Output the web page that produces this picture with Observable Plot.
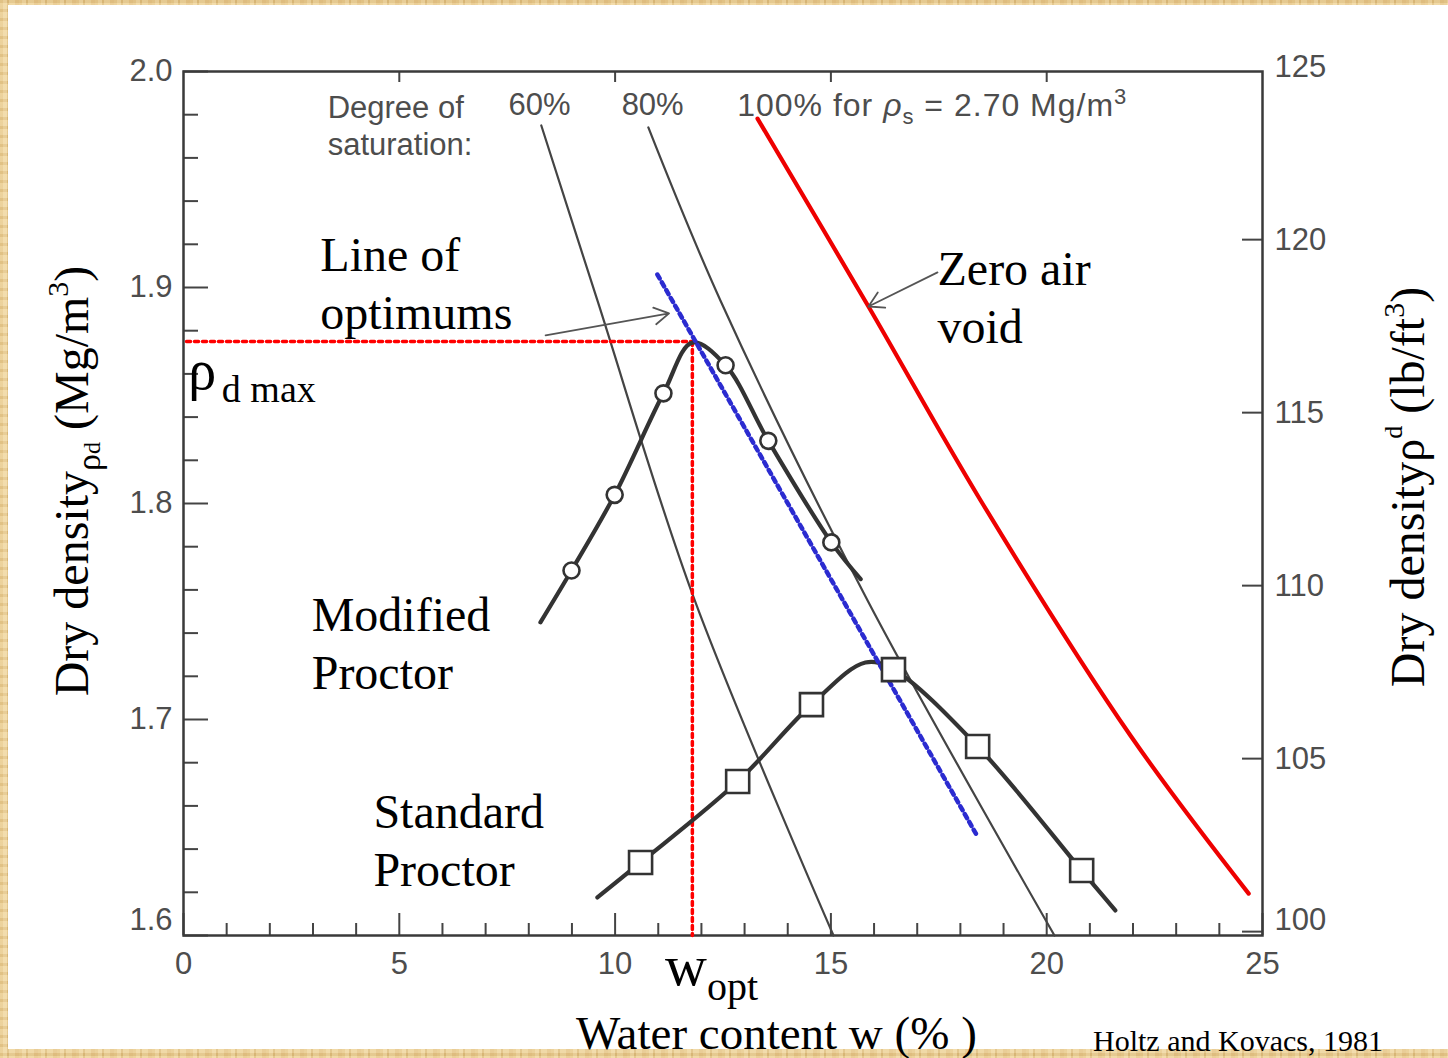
<!DOCTYPE html>
<html><head><meta charset="utf-8">
<script src="https://cdn.jsdelivr.net/npm/d3@7"></script>
<script src="https://cdn.jsdelivr.net/npm/@observablehq/plot@0.6"></script>
<style>
html,body{margin:0;padding:0;background:#fff;}
#wrap{position:relative;width:1448px;height:1058px;overflow:hidden;
 background:
  repeating-linear-gradient(0deg, rgba(255,240,200,0.25) 0 2px, rgba(180,140,70,0.12) 2px 5px, rgba(255,245,215,0.2) 5px 9px),
  repeating-linear-gradient(90deg, #e7c98d 0 3px, #efd6a2 3px 7px, #dcbb7c 7px 9px, #ecd29b 9px 15px, #e4c387 15px 19px);}
#paper{position:absolute;left:8px;top:5px;right:0;bottom:9px;background:#fff;}
#chart{position:absolute;left:0;top:0;}
</style></head><body>
<div id="wrap"><div id="paper"></div><div id="chart"></div></div>
<script>
// ---------- data ----------
// Modified Proctor curve (water content %, dry density Mg/m3); isTest marks measured points
const modW      = [8.27, 8.99, 9.99, 11.12, 11.79, 12.56, 13.55, 15.01, 15.69];
const modRho    = [1.745, 1.769, 1.804, 1.851, 1.8745, 1.864, 1.829, 1.782, 1.765];
const modIsTest = [0, 1, 1, 1, 0, 1, 1, 1, 0];
// Standard Proctor curve
const stdW      = [9.59, 10.59, 12.84, 14.55, 15.80, 16.45, 18.40, 20.81, 21.59];
const stdRho    = [1.6176, 1.6338, 1.6713, 1.7069, 1.7264, 1.7231, 1.6875, 1.6301, 1.6116];
const stdIsTest = [0, 1, 1, 1, 0, 1, 1, 1, 0];
// Degree of saturation lines
const s60W   = [8.29, 9.59, 11.82, 15.06];
const s60Rho = [1.975, 1.894, 1.7565, 1.600];
const s80W   = [10.77, 12.44, 15.85, 20.18];
const s80Rho = [1.9741, 1.894, 1.7551, 1.600];
const s100W   = [13.30, 15.87, 18.47, 21.94, 24.68];
const s100Rho = [1.9782, 1.8912, 1.8014, 1.6926, 1.6194];
// Line of optimums
const optLineW   = [10.98, 18.37];
const optLineRho = [1.906, 1.6468];
// Optimum of modified Proctor
const wOpt = 11.79, rhoMax = 1.875;
// Axis ticks
const xMajor = [0, 5, 10, 15, 20, 25];
const xMinor = [1,2,3,4,6,7,8,9,11,12,13,14,16,17,18,19,21,22,23,24];
const xTop   = [5, 10, 15, 20];
const yMajor = [1.6, 1.7, 1.8, 1.9, 2.0];
const yMinor = [1.62,1.64,1.66,1.68,1.72,1.74,1.76,1.78,1.82,1.84,1.86,1.88,1.92,1.94,1.96,1.98];
const lbTicks = [100, 105, 110, 115, 120, 125];
const LB_PER_MG = 62.43;

const toPts = (W, R, T) => W.map((w, i) => ({w, rho: R[i], test: T ? T[i] : 1}));
const mod = toPts(modW, modRho, modIsTest);
const std = toPts(stdW, stdRho, stdIsTest);
const s60 = toPts(s60W, s60Rho), s80 = toPts(s80W, s80Rho), s100 = toPts(s100W, s100Rho);
const optLine = toPts(optLineW, optLineRho);

const gray = "#4d4d4d", ink = "#333";
const serif = "'Liberation Serif', 'Times New Roman', serif";
const sans = "'Liberation Sans', Arial, sans-serif";

const plot = Plot.plot({
  width: 1448, height: 1058,
  marginLeft: 183, marginRight: 186, marginTop: 71, marginBottom: 123,
  x: {domain: [0, 25]},
  y: {domain: [1.6, 2.0]},
  style: {background: "transparent", fontFamily: sans, overflow: "visible"},
  marks: [
    // axis tick labels
    Plot.axisX({anchor: "bottom", ticks: xMajor, tickSize: 0, tickPadding: 16, fontSize: 31, color: gray, label: null}),
    Plot.axisY({anchor: "left", ticks: yMajor.slice(1), tickSize: 0, tickPadding: 11, fontSize: 31, color: gray, label: null, tickFormat: d => d.toFixed(1)}),
    Plot.axisY({anchor: "left", ticks: [1.6], tickSize: 0, tickPadding: 11, fontSize: 31, color: gray, label: null, dy: -15, tickFormat: d => d.toFixed(1)}),
    Plot.axisY({anchor: "right", ticks: lbTicks.slice(1).map(v => v / LB_PER_MG), tickSize: 0, tickPadding: 12, fontSize: 31, color: gray, label: null, tickFormat: d => String(Math.round(d * LB_PER_MG))}),
    Plot.axisY({anchor: "right", ticks: [lbTicks[0] / LB_PER_MG], tickSize: 0, tickPadding: 12, fontSize: 31, color: gray, label: null, dy: -12, tickFormat: d => String(Math.round(d * LB_PER_MG))}),
    // inward ticks
    Plot.axisX({anchor: "bottom", ticks: xMajor, tickSize: -22, strokeWidth: 2, color: "#444", label: null, tickFormat: () => ""}),
    Plot.axisX({anchor: "bottom", ticks: xMinor, tickSize: -12, strokeWidth: 2, color: "#444", label: null, tickFormat: () => ""}),
    Plot.axisX({anchor: "top", ticks: xTop, tickSize: -10, strokeWidth: 2, color: "#444", label: null, tickFormat: () => ""}),
    Plot.axisY({anchor: "left", ticks: yMajor, tickSize: -25, strokeWidth: 2, color: "#444", label: null, tickFormat: () => ""}),
    Plot.axisY({anchor: "left", ticks: yMinor, tickSize: -15, strokeWidth: 2, color: "#444", label: null, tickFormat: () => ""}),
    Plot.axisY({anchor: "right", ticks: lbTicks.slice(0, -1).map(v => v / LB_PER_MG), tickSize: -21, strokeWidth: 2, color: "#444", label: null, tickFormat: () => ""}),
    Plot.frame({stroke: "#3a3a3a", strokeWidth: 2.5}),
    // saturation lines
    Plot.line(s60, {x: "w", y: "rho", stroke: "#444", strokeWidth: 2.2, curve: "catmull-rom"}),
    Plot.line(s80, {x: "w", y: "rho", stroke: "#444", strokeWidth: 2.2, curve: "catmull-rom"}),
    Plot.line(s100, {x: "w", y: "rho", stroke: "#ee0000", strokeWidth: 4.2, curve: "catmull-rom"}),
    // optimum guides
    Plot.line([{w: 0.07, rho: rhoMax}, {w: wOpt, rho: rhoMax}], {x: "w", y: "rho", stroke: "#ff0000", strokeWidth: 3.5, strokeDasharray: "4,4"}),
    Plot.line([{w: wOpt, rho: rhoMax}, {w: wOpt, rho: 1.6}], {x: "w", y: "rho", stroke: "#ff0000", strokeWidth: 3.5, strokeDasharray: "4,4"}),
    // Proctor curves
    Plot.line(mod, {x: "w", y: "rho", stroke: ink, strokeWidth: 4.2, curve: "catmull-rom"}),
    Plot.line(std, {x: "w", y: "rho", stroke: ink, strokeWidth: 4.2, curve: "catmull-rom"}),
    // line of optimums
    Plot.line(optLine, {x: "w", y: "rho", stroke: "#2b2bd0", strokeWidth: 4.5, strokeDasharray: "4.5,4.5"}),
    Plot.dot(mod.filter(d => d.test), {x: "w", y: "rho", r: 8, fill: "white", stroke: ink, strokeWidth: 2.6}),
    Plot.dot(std.filter(d => d.test), {x: "w", y: "rho", symbol: "square", r: 13, fill: "white", stroke: ink, strokeWidth: 2.6}),
    // arrows
    Plot.arrow([{x1: 8.39, y1: 1.8778, x2: 11.25, y2: 1.888}], {x1: "x1", y1: "y1", x2: "x2", y2: "y2", stroke: "#555", strokeWidth: 1.8, headLength: 14}),
    Plot.arrow([{x1: 17.47, y1: 1.907, x2: 15.87, y2: 1.8912}], {x1: "x1", y1: "y1", x2: "x2", y2: "y2", stroke: "#555", strokeWidth: 1.8, headLength: 14}),
    // gray header texts
    Plot.text(["Degree of\nsaturation:"], {x: 3.34, y: 1.9755, text: d => d, textAnchor: "start", lineAnchor: "middle", lineHeight: 1.22, fontSize: 31, fill: gray}),
    Plot.text(["60%"], {x: 8.25, y: 1.9843, text: d => d, fontSize: 31, fill: gray}),
    Plot.text(["80%"], {x: 10.87, y: 1.9843, text: d => d, fontSize: 31, fill: gray}),
    // serif annotations
    Plot.text(["Line of\noptimums"], {x: 3.17, y: 1.9028, text: d => d, textAnchor: "start", lineAnchor: "middle", lineHeight: 1.21, fontSize: 48, fontFamily: serif, fill: "#000"}),
    Plot.text(["Modified\nProctor"], {x: 2.97, y: 1.7361, text: d => d, textAnchor: "start", lineAnchor: "middle", lineHeight: 1.21, fontSize: 48, fontFamily: serif, fill: "#000"}),
    Plot.text(["Standard\nProctor"], {x: 4.40, y: 1.6449, text: d => d, textAnchor: "start", lineAnchor: "middle", lineHeight: 1.21, fontSize: 48, fontFamily: serif, fill: "#000"}),
    Plot.text(["Zero air\nvoid"], {x: 17.47, y: 1.8963, text: d => d, textAnchor: "start", lineAnchor: "middle", lineHeight: 1.21, fontSize: 48, fontFamily: serif, fill: "#000"})
  ]
});
document.getElementById("chart").appendChild(plot);

// ---------- rich texts (sub/superscripts) ----------
const svg = d3.select(plot);
const sx = plot.scale("x"), sy = plot.scale("y");
function rich(x, y, parts, attrs = {}) {
  const t = svg.append("text").attr("x", x).attr("y", y).attr("text-anchor", "start");
  for (const [k, v] of Object.entries(attrs)) t.attr(k, v);
  for (const p of parts) {
    const s = t.append("tspan").attr("font-size", p.size).attr("dy", p.dy || 0).text(p.t);
    if (p.italic) s.attr("font-style", "italic");
  }
  return t;
}
// header "100% for ρs = 2.70 Mg/m3"
rich(sx.apply(12.84), sy.apply(1.9843) + 11, [
  {t: "100% for ", size: 32}, {t: "ρ", size: 32, italic: true}, {t: "s", size: 22, dy: 8},
  {t: " = 2.70 Mg/m", size: 32, dy: -8}, {t: "3", size: 22, dy: -12}
], {"font-family": sans, fill: gray, "letter-spacing": "1px"});
// ρd max
rich(sx.apply(0.12), sy.apply(1.8528), [{t: "ρ", size: 56}], {"font-family": serif, fill: "#000"});
rich(sx.apply(0.90), sy.apply(1.8528) + 13, [{t: "d max", size: 38}], {"font-family": serif, fill: "#000"});
// w_opt
rich(sx.apply(11.17), 985, [{t: "w", size: 58}, {t: "opt", size: 40, dy: 15}], {"font-family": serif, fill: "#000"});
// x title
rich(576, 1049, [{t: "Water content w (%", size: 47}, {t: " )", size: 47}], {"font-family": serif, fill: "#000"});
// caption
rich(1093, 1051, [{t: "Holtz and Kovacs, 1981", size: 30}], {"font-family": serif, fill: "#000"});
// left y title
rich(0, 0, [
  {t: "Dry density", size: 48}, {t: "ρ", size: 34, dy: 12}, {t: "d", size: 24},
  {t: " (Mg/m", size: 48, dy: -12}, {t: "3", size: 30, dy: -20}, {t: ")", size: 48, dy: 20}
], {"font-family": serif, fill: "#000", "text-anchor": "middle", transform: "translate(88,481) rotate(-90)"});
// right y title
rich(0, 0, [
  {t: "Dry density", size: 48}, {t: "ρ", size: 46}, {t: "d", size: 26, dy: -22},
  {t: " (lb/ft", size: 48, dy: 22}, {t: "3", size: 30, dy: -20}, {t: ")", size: 48, dy: 20}
], {"font-family": serif, fill: "#000", "text-anchor": "middle", transform: "translate(1424,487) rotate(-90)"});
</script>
</body></html>
